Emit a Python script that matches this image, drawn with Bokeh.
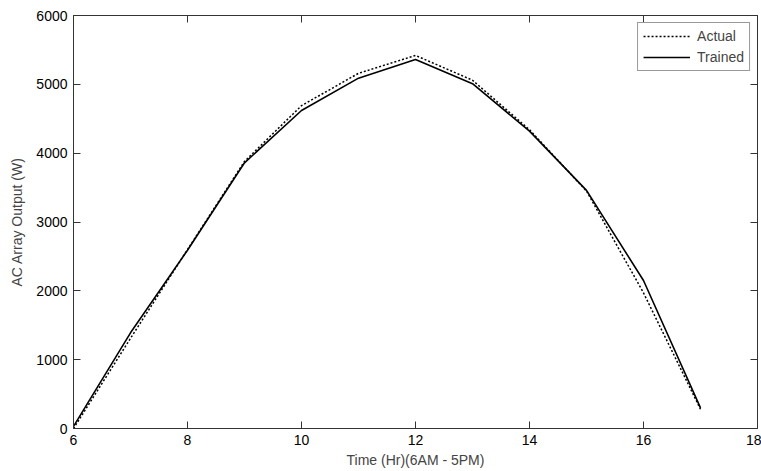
from bokeh.plotting import figure
from bokeh.models import Range1d, LinearAxis, FixedTicker, Legend, LegendItem
from bokeh.embed import file_html
from bokeh.resources import INLINE

hours = [6, 7, 8, 9, 10, 11, 12, 13, 14, 15, 16, 17]
actual = [0, 1310, 2600, 3880, 4690, 5160, 5420, 5060, 4340, 3450, 1970, 280]
trained = [30, 1390, 2590, 3860, 4620, 5090, 5360, 5010, 4320, 3460, 2150, 300]

x_ticks = [6, 8, 10, 12, 14, 16, 18]
y_ticks = [0, 1000, 2000, 3000, 4000, 5000, 6000]

FONT = "Liberation Sans"
AXC = "#333333"

p = figure(width=761, height=471, output_backend="svg", toolbar_location=None,
           x_range=Range1d(6, 18), y_range=Range1d(0, 6000),
           min_border_left=73, min_border_right=4, min_border_top=15, min_border_bottom=43,
           background_fill_color="white", border_fill_color="white")
p.grid.visible = False
p.outline_line_color = AXC
p.outline_line_width = 1

la = p.line(hours, actual, line_color="black", line_width=1.5, line_dash="2 2")
lt = p.line(hours, trained, line_color="black", line_width=1.6)

def style(ax, labels=True):
    ax.axis_line_color = AXC
    ax.major_tick_line_color = AXC
    ax.major_tick_in = 7
    ax.major_tick_out = 0
    ax.minor_tick_line_color = None
    ax.major_label_text_font = FONT
    if labels:
        ax.major_label_text_color = "black"
        ax.major_label_text_font_size = "14px"
        ax.major_label_standoff = 6
    else:
        ax.major_label_text_color = None
        ax.major_label_text_font_size = "1px"
        ax.major_label_standoff = 0

xa = p.xaxis[0]
xa.ticker = FixedTicker(ticks=x_ticks)
style(xa)
xa.axis_label = "Time (Hr)(6AM - 5PM)"
xa.axis_label_text_font = FONT
xa.axis_label_text_font_size = "14px"
xa.axis_label_text_font_style = "normal"
xa.axis_label_standoff = 4

ya = p.yaxis[0]
ya.ticker = FixedTicker(ticks=y_ticks)
style(ya)
ya.axis_label = "AC Array Output (W)"
ya.axis_label_text_font = FONT
ya.axis_label_text_font_size = "14px"
ya.axis_label_text_font_style = "normal"
ya.axis_label_standoff = 8

top = LinearAxis(ticker=FixedTicker(ticks=x_ticks))
style(top, labels=False)
p.add_layout(top, "above")
right = LinearAxis(ticker=FixedTicker(ticks=y_ticks))
style(right, labels=False)
p.add_layout(right, "right")

legend = Legend(items=[LegendItem(label="Actual", renderers=[la]),
                       LegendItem(label="Trained", renderers=[lt])],
                location="top_right", margin=7, padding=5, spacing=5,
                glyph_width=47, glyph_height=16, label_height=16, label_standoff=7,
                label_text_font=FONT, label_text_font_size="14px",
                border_line_color=AXC, border_line_width=1,
                background_fill_color="white", background_fill_alpha=1)
p.add_layout(legend, "center")

open("out.html", "w").write(file_html(p, INLINE))
